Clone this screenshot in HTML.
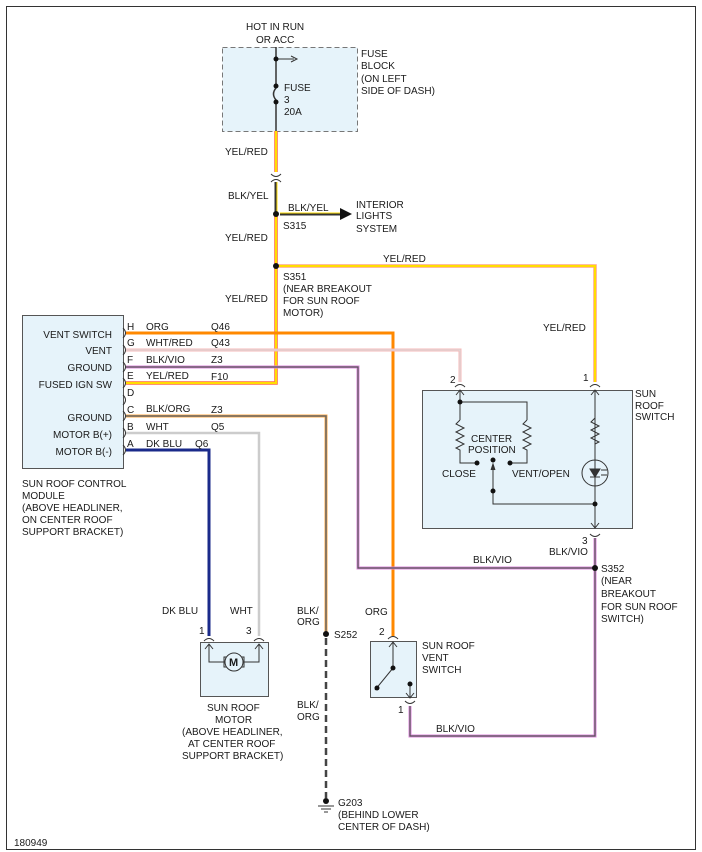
<!DOCTYPE html>
<html><head><meta charset="utf-8"><style>
html,body{margin:0;padding:0;background:#fff}
svg{display:block}
text{font-family:"Liberation Sans",sans-serif;font-size:10px;fill:#1a1a1a}
</style></head><body>
<svg width="702" height="852" viewBox="0 0 702 852" xmlns="http://www.w3.org/2000/svg">
<rect x="6.5" y="6.5" width="689" height="843" fill="none" stroke="#333" stroke-width="1"/>
<rect x="222.5" y="47.5" width="135" height="84" fill="#e6f3fa" stroke="#777" stroke-dasharray="5,3"/>
<rect x="22.5" y="315.5" width="101" height="153" fill="#e6f3fa" stroke="#555"/>
<rect x="422.5" y="390.5" width="210" height="138" fill="#e6f3fa" stroke="#555"/>
<rect x="370.5" y="641.5" width="46" height="56" fill="#e6f3fa" stroke="#555"/>
<rect x="200.5" y="642.5" width="68" height="54" fill="#e6f3fa" stroke="#555"/>

<g fill="none" stroke-linejoin="miter">
<line x1="276" y1="47" x2="276" y2="84" stroke="#333" stroke-width="1.5"/>
<path d="M276 88 q-5 6 0 12" stroke="#333" stroke-width="1.5"/>
<line x1="276" y1="104" x2="276" y2="131" stroke="#333" stroke-width="1.5"/>
<line x1="276" y1="59" x2="294" y2="59" stroke="#333"/>
<path d="M291 56 L297 59 L291 62" stroke="#333"/>
<polyline points="276,131 276,172" stroke="#f55" stroke-width="3.5"/>
<polyline points="276,131 276,172" stroke="#fd0" stroke-width="2.2"/>
<path d="M271 174 q5 5 10 0 M271 182 q5 -5 10 0" stroke="#333"/>
<line x1="276" y1="182" x2="276" y2="212" stroke="#333" stroke-width="3"/>
<line x1="277" y1="182" x2="277" y2="212" stroke="#fd0" stroke-width="1"/>
<line x1="280" y1="214" x2="342" y2="214" stroke="#333" stroke-width="3"/>
<line x1="280" y1="213" x2="342" y2="213" stroke="#fd0" stroke-width="1"/>
<polyline points="276,214 276,383 126,383" stroke="#f55" stroke-width="3.5"/>
<polyline points="276,214 276,383 126,383" stroke="#fd0" stroke-width="2.2"/>
<polyline points="276,266 595,266 595,382" stroke="#f99" stroke-width="3.5"/>
<polyline points="276,266 595,266 595,382" stroke="#fd0" stroke-width="2.2"/>
<polyline points="126,333 393,333 393,636" stroke="#f80" stroke-width="3"/>
<polyline points="126,350 460,350 460,382" stroke="#f4b8b8" stroke-width="3"/>
<polyline points="126,350 460,350 460,382" stroke="#ddd" stroke-width="1"/>
<polyline points="126,367 358,367 358,568 595,568" stroke="#d8d" stroke-width="3"/>
<polyline points="126,367 358,367 358,568 595,568" stroke="#555" stroke-width="1.2"/>
<polyline points="595,538 595,736 410,736 410,706" stroke="#d8d" stroke-width="3"/>
<polyline points="595,538 595,736 410,736 410,706" stroke="#555" stroke-width="1.2"/>
<polyline points="126,416 326,416 326,634" stroke="#fa4" stroke-width="3"/>
<polyline points="126,416 326,416 326,634" stroke="#666" stroke-width="1.5"/>
<line x1="326" y1="638" x2="326" y2="798" stroke="#444" stroke-width="2.5" stroke-dasharray="7,4"/>
<polyline points="126,433 259,433 259,636" stroke="#ccc" stroke-width="2.5"/>
<polyline points="126,450 209,450 209,636" stroke="#1a2a8a" stroke-width="3"/>
</g>
<g fill="none" stroke="#333">
<path d="M123 328 q5 5 0 10 M123 345 q5 5 0 10 M123 362 q5 5 0 10 M123 378 q5 5 0 10 M123 395 q5 5 0 10 M123 411 q5 5 0 10 M123 428 q5 5 0 10 M123 445 q5 5 0 10"/>
<path d="M455 387 q5 -5 10 0 M590 387 q5 -5 10 0 M590 534 q5 5 10 0 M204 641 q5 -5 10 0 M254 641 q5 -5 10 0 M388 639 q5 -5 10 0 M405 701 q5 5 10 0"/>
<path d="M460 390 V420 M456 395 L460 390 L464 395 M595 390 V528 M591 395 L595 390 L599 395 M591 523 L595 528 L599 523"/>
<path d="M460 402 H527 V420"/>
<path d="M460 420 l-4 4 8 4 -8 4 8 4 -8 4 8 4 -8 4 4 2 V463 H476"/>
<path d="M527 420 l-4 4 8 4 -8 4 8 4 -8 4 8 4 -8 4 4 2 V463 H510"/>
<path d="M595 418 l-4 4 8 4 -8 4 8 4 -8 4 8 4 -4 2"/>
<path d="M493 465 V504 H595"/>
<path d="M491 470 L493 464 L495 470" fill="#333"/>
<circle cx="595" cy="473" r="13"/>
<path d="M590 469 H600 L595 477 Z M590 477 H600" fill="#333"/>
<path d="M601 470 h6 M601 475 h6"/>
<path d="M209 644 V662 H224 M259 644 V662 H244 M205 649 L209 644 L213 649 M255 649 L259 644 L263 649"/>
<rect x="224" y="657" width="20" height="10" fill="#e6f3fa" stroke="#333"/>
<circle cx="234" cy="662" r="9" fill="#e6f3fa"/>
<path d="M393 642 V668 M389 647 L393 642 L397 647 M393 668 L375 690 M410 684 V698 M406 693 L410 698 L414 693"/>
</g>
<text x="229" y="666" style="font-size:11px;font-weight:bold">M</text>
<g stroke="#333"><line x1="318" y1="806" x2="334" y2="806"/><line x1="321" y1="809" x2="331" y2="809"/><line x1="324" y1="812" x2="328" y2="812"/></g>
<g fill="#111">
<circle cx="276" cy="59" r="2.5"/><circle cx="276" cy="86" r="2.5"/><circle cx="276" cy="102" r="2.5"/>
<circle cx="276" cy="214" r="3"/><circle cx="276" cy="266" r="3"/><circle cx="595" cy="568" r="3"/><circle cx="326" cy="634" r="3"/><circle cx="326" cy="801" r="3"/>
<circle cx="460" cy="402" r="2.5"/><circle cx="477" cy="463" r="2.5"/><circle cx="510" cy="463" r="2.5"/><circle cx="493" cy="460" r="2.5"/><circle cx="493" cy="491" r="2.5"/><circle cx="595" cy="504" r="2.5"/>
<circle cx="393" cy="668" r="2.5"/><circle cx="377" cy="688" r="2.5"/><circle cx="410" cy="684" r="2.5"/>
</g>
<path d="M340 208 L352 214 L340 220 Z" fill="#111"/>
<text x="246" y="30">HOT IN RUN</text><text x="256" y="43">OR ACC</text>
<text x="361" y="57">FUSE</text><text x="361" y="69">BLOCK</text><text x="361" y="82">(ON LEFT</text><text x="361" y="94">SIDE OF DASH)</text>
<text x="284" y="91">FUSE</text><text x="284" y="103">3</text><text x="284" y="115">20A</text>
<text x="225" y="155">YEL/RED</text><text x="228" y="199">BLK/YEL</text>
<text x="288" y="211">BLK/YEL</text><text x="283" y="229">S315</text>
<text x="356" y="208">INTERIOR</text><text x="356" y="219">LIGHTS</text><text x="356" y="232">SYSTEM</text>
<text x="225" y="241">YEL/RED</text><text x="383" y="262">YEL/RED</text>
<text x="283" y="280">S351</text><text x="283" y="292">(NEAR BREAKOUT</text><text x="283" y="304">FOR SUN ROOF</text><text x="283" y="316">MOTOR)</text>
<text x="225" y="302">YEL/RED</text><text x="543" y="331">YEL/RED</text>
<g text-anchor="end"><text x="112" y="338">VENT SWITCH</text><text x="112" y="354">VENT</text><text x="112" y="371">GROUND</text><text x="112" y="388">FUSED IGN SW</text><text x="112" y="421">GROUND</text><text x="112" y="438">MOTOR B(+)</text><text x="112" y="455">MOTOR B(-)</text></g>
<text x="127" y="330">H</text><text x="146" y="330">ORG</text><text x="211" y="330">Q46</text>
<text x="127" y="346">G</text><text x="146" y="346">WHT/RED</text><text x="211" y="346">Q43</text>
<text x="127" y="363">F</text><text x="146" y="363">BLK/VIO</text><text x="211" y="363">Z3</text>
<text x="127" y="379">E</text><text x="146" y="379">YEL/RED</text><text x="211" y="380">F10</text>
<text x="127" y="396">D</text>
<text x="127" y="413">C</text><text x="146" y="412">BLK/ORG</text><text x="211" y="413">Z3</text>
<text x="127" y="430">B</text><text x="146" y="430">WHT</text><text x="211" y="430">Q5</text>
<text x="127" y="447">A</text><text x="146" y="447">DK BLU</text><text x="195" y="447">Q6</text>
<text x="22" y="487">SUN ROOF CONTROL</text><text x="22" y="499">MODULE</text><text x="22" y="511">(ABOVE HEADLINER,</text><text x="22" y="523">ON CENTER ROOF</text><text x="22" y="535">SUPPORT BRACKET)</text>
<text x="450" y="383">2</text><text x="583" y="381">1</text>
<text x="635" y="397">SUN</text><text x="635" y="409">ROOF</text><text x="635" y="420">SWITCH</text>
<text x="471" y="442">CENTER</text><text x="468" y="453">POSITION</text>
<text x="442" y="477">CLOSE</text><text x="512" y="477">VENT/OPEN</text>
<text x="582" y="544">3</text><text x="549" y="555">BLK/VIO</text>
<text x="473" y="563">BLK/VIO</text>
<text x="601" y="572">S352</text><text x="601" y="584">(NEAR</text><text x="601" y="597">BREAKOUT</text><text x="601" y="610">FOR SUN ROOF</text><text x="601" y="622">SWITCH)</text>
<text x="162" y="614">DK BLU</text><text x="230" y="614">WHT</text>
<text x="297" y="614">BLK/</text><text x="297" y="625">ORG</text><text x="334" y="638">S252</text>
<text x="365" y="615">ORG</text>
<text x="199" y="634">1</text><text x="246" y="634">3</text><text x="379" y="635">2</text><text x="398" y="713">1</text>
<text x="422" y="649">SUN ROOF</text><text x="422" y="661">VENT</text><text x="422" y="673">SWITCH</text>
<text x="436" y="732">BLK/VIO</text>
<text x="207" y="711">SUN ROOF</text><text x="215" y="723">MOTOR</text><text x="182" y="735">(ABOVE HEADLINER,</text><text x="188" y="747">AT CENTER ROOF</text><text x="182" y="759">SUPPORT BRACKET)</text>
<text x="297" y="708">BLK/</text><text x="297" y="720">ORG</text>
<text x="338" y="806">G203</text><text x="338" y="818">(BEHIND LOWER</text><text x="338" y="830">CENTER OF DASH)</text>
<text x="14" y="846">180949</text>
</svg>
</body></html>
